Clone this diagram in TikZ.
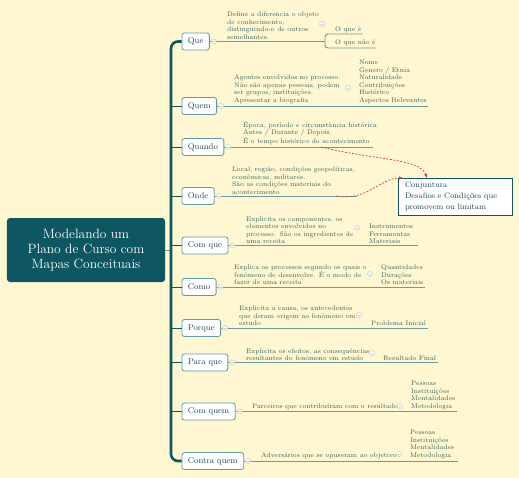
\documentclass[tikz,border=0pt]{standalone}
\usepackage{fontspec}
\usepackage{tikz}
\usetikzlibrary{positioning}
\usetikzlibrary{arrows.meta}

\definecolor{paper}{HTML}{FFF7D1}
\definecolor{mapteal}{HTML}{0E5661}
\definecolor{topicline}{HTML}{5E9DA1}
\definecolor{topictext}{HTML}{1E4D55}
\definecolor{notetext}{HTML}{35655F}
\definecolor{branchline}{HTML}{6F9C99}
\definecolor{foldgray}{HTML}{C9C9C9}
\definecolor{relred}{HTML}{D0402F}

\tikzset{
  central/.style={fill=mapteal, text=white, rounded corners=3bp, minimum width=158bp, minimum height=64bp, align=center, font=\fontsize{13.5}{15}\selectfont},
  topic/.style={draw=topicline, line width=0.8bp, fill=white, rounded corners=2.5bp, text=topictext, minimum height=17bp, inner xsep=6bp, anchor=west, font=\fontsize{8.5}{10}\selectfont},
  note/.style={text=notetext, align=left, inner sep=0pt, anchor=south west, font=\fontsize{6.7}{7.6}\selectfont},
  conjbox/.style={draw=mapteal, line width=0.8bp, fill=white, text=topictext, minimum width=114bp, minimum height=37bp, text width=100bp, align=left, font=\fontsize{8}{11}\selectfont},
  fold/.style={circle, draw=foldgray, fill=white, line width=0.5bp, minimum size=5bp, inner sep=0pt,
    path picture={\draw[foldgray, line width=0.5bp] ([xshift=-1.4bp]path picture bounding box.center) -- ([xshift=1.4bp]path picture bounding box.center);}},
  trunk/.style={draw=mapteal, line width=2.6bp, rounded corners=7bp},
  twig/.style={draw=mapteal, line width=0.8bp},
  underline/.style={draw=branchline, line width=0.9bp},
  relation/.style={draw=relred, line width=0.7bp, dash pattern=on 2bp off 1.5bp, -{Latex[length=4bp,width=3.5bp]}}
}

\begin{document}
\begin{tikzpicture}[x=1bp, y=-1bp]
  \fill[paper] (0,0) rectangle (519,478);
  \useasboundingbox (0,0) rectangle (519,478);

  % centro e tronco
  \node[central] (root) at (86,250) {Modelando um\\Plano de Curso com\\Mapas Conceituais};
  \coordinate (trunk-mid) at (171,250);

  \node[topic] (que) at (181.5,41.5) {Que};
  \node[topic] (quem) at (181.5,106) {Quem};
  \node[topic] (quando) at (181.5,147) {Quando};
  \node[topic] (onde) at (181.5,196) {Onde};
  \node[topic] (comque) at (181.5,245.5) {Com que};
  \node[topic] (como) at (181.5,287) {Como};
  \node[topic] (porque) at (181.5,328) {Porque};
  \node[topic] (paraque) at (181.5,362.5) {Para que};
  \node[topic] (comquem) at (181.5,411.5) {Com quem};
  \node[topic] (contraquem) at (181.5,461) {Contra quem};

  \draw[underline] (root.east) -- (trunk-mid);
  \draw[trunk] (que.west) -| (trunk-mid) |- (contraquem.west);
  \foreach \t in {quem,quando,onde,comque,como,porque,paraque,comquem}
    \draw[twig] (\t.west -| trunk-mid) -- (\t.west);

  % linhas dos subtopicos
  \coordinate (que-e) at (325,41.5);
  \coordinate (oque-e) at (363,34);
  \coordinate (oquenao-e) at (376,48);
  \coordinate (quem-e) at (428,106);
  \coordinate (quando-e) at (373,147);
  \coordinate (onde-e) at (357,196);
  \coordinate (comque-e) at (418,245.5);
  \coordinate (como-e) at (425,287);
  \coordinate (porque-e) at (428,328);
  \coordinate (paraque-e) at (438,362.5);
  \coordinate (comquem-e) at (457,411.5);
  \coordinate (contraquem-e) at (458,461);

  \draw[underline] (que.east) -- (que-e);
  \draw[underline, rounded corners=3bp] (que-e) |- (oque-e);
  \draw[underline, rounded corners=3bp] (que-e) |- (oquenao-e);
  \foreach \t in {quem,quando,onde,comque,como,porque,paraque,comquem,contraquem}
    \draw[underline] (\t.east) -- (\t-e);

  \foreach \t in {que,quem,quando,onde,comque,como,porque,paraque,comquem,contraquem}
    \node[fold] (\t-fold) at ([xshift=4bp]\t.east) {};

  % textos
  \node[note] (que-note) at (227,39.5) {Define a diferencia o objeto\\de conhecimento,\\distinguindo-o de outros\\semelhantes.};
  \node[note] (oque) at (335,32.5) {O que é};
  \node[note] (oquenao) at (335,46) {O que não é};

  \node[note] (quem-note) at (234,104) {Agentes envolvidos no processo.\\Não são apenas pessoas, podem\\ser grupos, instituições.\\Apresentar a biografia};
  \node[note] (quem-list) at (359,104) {Nome\\Genero / Etnia\\Naturalidade\\Contribuições\\Histórico\\Aspectos Relevantes};

  \node[note] (quando-note) at (243,145) {Época, período e circunstância histórica\\Antes / Durante / Depois.\\É o tempo histórico do acontecimento};

  \node[note] (onde-note) at (232,194.5) {Local, região, condições geopolíticas,\\econômicas, militares.\\São as condições materiais do\\acontecimento};

  \node[note] (comque-note) at (246,244) {Explicita os componentes, os\\elementos envolvidos no\\processo. São os ingredientes de\\uma receita};
  \node[note] (comque-list) at (369,244) {Instrumentos\\Ferramentas\\Materiais};

  \node[note] (como-note) at (234,285) {Explica os processos segundo os quais o\\fenômeno de desenvolve. É o modo de\\fazer de uma receita};
  \node[note] (como-list) at (381,285) {Quantidades\\Durações\\Os materiais};

  \node[note] (porque-note) at (239,326) {Explicita a causa, os antecedentes\\que deram origem ao fenômeno em\\estudo};
  \node[note] (porque-list) at (371,326) {Problema Inicial};

  \node[note] (paraque-note) at (246,361) {Explicita os efeitos, as consequências\\resultantes do fenômeno em estudo};
  \node[note] (paraque-list) at (383,361) {Resultado Final};

  \node[note] (comquem-note) at (252,410) {Parceiros que contribuíram com o resultado};
  \node[note] (comquem-list) at (411,410) {Pessoas\\Instituições\\Mentalidades\\Metodologia};

  \node[note] (contraquem-note) at (261,459) {Adversários que se opuseram ao objetivo};
  \node[note] (contraquem-list) at (410,459) {Pessoas\\Instituições\\Mentalidades\\Metodologia};

  \node[fold] (que-nfold) at (322,24) {};
  \node[fold] (quem-nfold) at (348,88) {};
  \node[fold] (comque-nfold) at (357,228) {};
  \node[fold] (como-nfold) at (370,274) {};
  \node[fold] (porque-nfold) at (359,315) {};
  \node[fold] (paraque-nfold) at (372,353) {};
  \node[fold] (comquem-nfold) at (400,406) {};
  \node[fold] (contraquem-nfold) at (399,454) {};

  % conjuntura
  \node[conjbox] (conj) at (455,196.5) {Conjuntura\\Desafios e Condições que\\promovem ou limitam};
  \draw[mapteal, line width=1.6bp] (conj.north east) -- (conj.south east) -- (conj.south west);

  \coordinate (rel-quando) at (321,147);
  \coordinate (rel-onde) at (336,196);
  \coordinate (conj-a) at (427,178);
  \coordinate (conj-b) at (403,178);
  \draw[relation] (rel-quando) .. controls (372,160) and (420,158) .. (conj-a);
  \draw[relation] (rel-onde) .. controls (366,202) and (380,178) .. (conj-b);
\end{tikzpicture}
\end{document}
